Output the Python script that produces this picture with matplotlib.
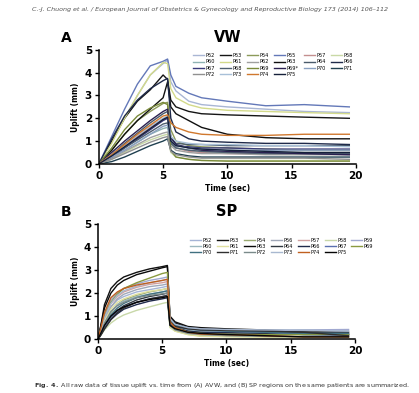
import matplotlib
matplotlib.use('Agg')
import matplotlib.pyplot as plt

# ---- Panel A (VW) data: uplift (mm) read at these times (sec)
time_a = [0, 1, 2, 3, 4, 5, 5.35, 5.6, 6, 7, 8, 10, 13, 16, 19.5]
vw_names = ['P52', 'P53', 'P54', 'P55', 'P57', 'P58',
            'P60', 'P61', 'P62', 'P63', 'P64', 'P66',
            'P67', 'P68', 'P69', 'P69*', 'P70', 'P71',
            'P72', 'P73', 'P74', 'P75']
vw_colors = ['#a9b6d4', '#151515', '#8c9a5a', '#6378b8', '#c48f8f', '#c9d9a6',
             '#8fb3b3', '#d3da8a', '#a0a0a0', '#101010', '#4a5a6a', '#1f2a4a',
             '#3a3a7a', '#4f5f70', '#7a8a3a', '#2a2050', '#8aa0c0', '#204050',
             '#909090', '#a8c0d8', '#d0782e', '#15203a']
vw_values = [
    [0, 1.0, 2.0, 3.0, 3.9, 4.4, 4.55, 3.6, 3.2, 2.75, 2.6, 2.5, 2.4, 2.3, 2.25],
    [0, 1.0, 2.0, 2.75, 3.25, 3.9, 3.7, 2.8, 2.5, 2.3, 2.2, 2.15, 2.1, 2.05, 2.0],
    [0, 0.6, 1.3, 1.9, 2.3, 2.65, 2.7, 1.5, 1.0, 0.8, 0.75, 0.7, 0.65, 0.6, 0.6],
    [0, 1.2, 2.4, 3.5, 4.3, 4.5, 4.6, 3.9, 3.4, 3.1, 2.9, 2.75, 2.55, 2.6, 2.5],
    [0, 0.4, 0.8, 1.2, 1.6, 1.95, 2.0, 1.0, 0.7, 0.55, 0.5, 0.45, 0.45, 0.45, 0.45],
    [0, 0.2, 0.5, 0.8, 1.05, 1.25, 1.3, 0.5, 0.3, 0.2, 0.15, 0.15, 0.15, 0.15, 0.15],
    [0, 0.3, 0.6, 0.95, 1.3, 1.55, 1.6, 0.9, 0.7, 0.6, 0.55, 0.5, 0.5, 0.5, 0.5],
    [0, 0.9, 2.0, 3.0, 3.9, 4.45, 4.4, 3.3, 2.9, 2.6, 2.45, 2.35, 2.3, 2.25, 2.2],
    [0, 0.25, 0.55, 0.85, 1.15, 1.35, 1.4, 0.8, 0.6, 0.5, 0.45, 0.45, 0.4, 0.4, 0.4],
    [0, 0.6, 1.3, 1.9, 2.4, 2.9, 3.6, 2.5, 2.2, 1.9, 1.6, 1.3, 1.15, 1.1, 1.1],
    [0, 0.4, 0.9, 1.35, 1.8, 2.2, 2.3, 1.1, 0.9, 0.85, 0.85, 0.8, 0.8, 0.8, 0.8],
    [0, 1.1, 2.1, 2.8, 3.3, 3.65, 3.75, 2.0, 1.4, 1.1, 1.0, 0.95, 0.9, 0.9, 0.85],
    [0, 0.3, 0.7, 1.1, 1.5, 1.9, 2.0, 1.0, 0.8, 0.75, 0.7, 0.7, 0.65, 0.65, 0.65],
    [0, 0.35, 0.7, 1.05, 1.4, 1.75, 1.8, 0.9, 0.7, 0.6, 0.55, 0.5, 0.45, 0.45, 0.45],
    [0, 0.7, 1.5, 2.1, 2.45, 2.7, 2.6, 0.6, 0.3, 0.2, 0.15, 0.12, 0.12, 0.12, 0.12],
    [0, 0.5, 1.0, 1.45, 1.9, 2.3, 2.4, 1.2, 0.85, 0.7, 0.6, 0.55, 0.5, 0.45, 0.4],
    [0, 0.3, 0.6, 0.95, 1.3, 1.65, 1.7, 1.0, 0.8, 0.7, 0.65, 0.6, 0.6, 0.6, 0.6],
    [0, 0.1, 0.3, 0.55, 0.8, 1.0, 1.1, 0.6, 0.45, 0.35, 0.3, 0.3, 0.3, 0.3, 0.3],
    [0, 0.2, 0.45, 0.7, 0.95, 1.15, 1.2, 0.55, 0.4, 0.3, 0.25, 0.25, 0.25, 0.25, 0.2],
    [0, 0.4, 0.8, 1.25, 1.65, 2.0, 2.1, 1.2, 1.0, 0.9, 0.85, 0.85, 0.8, 0.8, 0.75],
    [0, 0.4, 0.85, 1.3, 1.7, 2.1, 2.15, 1.8, 1.6, 1.4, 1.3, 1.25, 1.25, 1.3, 1.3],
    [0, 0.35, 0.75, 1.15, 1.55, 1.95, 2.05, 1.0, 0.8, 0.7, 0.65, 0.6, 0.55, 0.5, 0.5],
]

# ---- Panel B (SP) data
time_b = [0, 0.25, 0.5, 1, 1.5, 2, 3, 4, 5, 5.4, 5.6, 6, 7, 8, 10, 13, 16, 19.5]
sp_names = ['P52', 'P53', 'P54', 'P56', 'P57', 'P58', 'P59',
            'P60', 'P61', 'P63', 'P64', 'P66', 'P67', 'P69',
            'P70', 'P71', 'P72', 'P73', 'P74', 'P75']
sp_colors = ['#a5b4d6', '#111111', '#9aaa70', '#a0a8b8', '#d0a0a0', '#c8d8a8', '#a0a8d0',
             '#9cb8c0', '#e0e0a0', '#0a0a0a', '#303840', '#1f2a4a', '#5a70b0', '#8a9a40',
             '#407080', '#303030', '#7a8a8a', '#a8b8d0', '#c06020', '#050505']
sp_values = [
    [0, 0.45, 0.9, 1.4, 1.7, 1.85, 2.05, 2.15, 2.25, 2.3, 0.8, 0.6, 0.45, 0.4, 0.35, 0.3, 0.3, 0.35],
    [0, 0.7, 1.5, 2.2, 2.5, 2.7, 2.9, 3.05, 3.15, 3.2, 1.0, 0.75, 0.55, 0.5, 0.45, 0.4, 0.35, 0.25],
    [0, 0.3, 0.65, 1.15, 1.5, 1.7, 1.9, 2.05, 2.15, 2.2, 0.7, 0.5, 0.35, 0.3, 0.25, 0.2, 0.2, 0.2],
    [0, 0.4, 0.85, 1.4, 1.75, 1.95, 2.15, 2.28, 2.35, 2.4, 0.75, 0.55, 0.45, 0.4, 0.38, 0.35, 0.38, 0.4],
    [0, 0.5, 1.0, 1.55, 1.85, 2.05, 2.25, 2.38, 2.45, 2.5, 0.85, 0.6, 0.45, 0.4, 0.35, 0.3, 0.3, 0.3],
    [0, 0.2, 0.4, 0.7, 0.9, 1.05, 1.25, 1.4, 1.55, 1.6, 0.5, 0.35, 0.2, 0.15, 0.12, 0.1, 0.1, 0.1],
    [0, 0.55, 1.1, 1.7, 2.0, 2.2, 2.4, 2.55, 2.65, 2.7, 0.9, 0.65, 0.5, 0.45, 0.4, 0.38, 0.4, 0.42],
    [0, 0.35, 0.7, 1.2, 1.5, 1.65, 1.85, 1.95, 2.05, 2.1, 0.7, 0.5, 0.4, 0.35, 0.32, 0.3, 0.3, 0.3],
    [0, 0.4, 0.8, 1.3, 1.6, 1.75, 1.95, 2.08, 2.15, 2.2, 0.55, 0.35, 0.2, 0.12, 0.1, 0.08, 0.08, 0.08],
    [0, 0.65, 1.35, 2.0, 2.35, 2.55, 2.8, 2.95, 3.1, 3.15, 0.95, 0.7, 0.5, 0.45, 0.4, 0.35, 0.3, 0.2],
    [0, 0.25, 0.55, 0.95, 1.25, 1.45, 1.7, 1.85, 1.95, 2.0, 0.75, 0.6, 0.5, 0.45, 0.4, 0.35, 0.3, 0.3],
    [0, 0.22, 0.45, 0.85, 1.1, 1.3, 1.5, 1.65, 1.75, 1.8, 0.65, 0.5, 0.35, 0.3, 0.28, 0.25, 0.2, 0.2],
    [0, 0.25, 0.55, 0.95, 1.2, 1.4, 1.6, 1.75, 1.85, 1.9, 0.7, 0.55, 0.45, 0.4, 0.35, 0.3, 0.2, 0.15],
    [0, 0.5, 1.0, 1.6, 1.95, 2.2, 2.45, 2.65, 2.85, 2.9, 0.8, 0.5, 0.3, 0.25, 0.2, 0.2, 0.2, 0.2],
    [0, 0.3, 0.6, 1.05, 1.35, 1.55, 1.8, 1.95, 2.05, 2.1, 0.8, 0.6, 0.45, 0.4, 0.35, 0.3, 0.25, 0.25],
    [0, 0.2, 0.45, 0.85, 1.15, 1.35, 1.6, 1.75, 1.85, 1.9, 0.75, 0.55, 0.45, 0.4, 0.38, 0.35, 0.3, 0.15],
    [0, 0.35, 0.7, 1.2, 1.45, 1.6, 1.8, 1.9, 1.97, 2.0, 0.6, 0.4, 0.25, 0.2, 0.15, 0.12, 0.1, 0.1],
    [0, 0.45, 0.95, 1.55, 1.9, 2.1, 2.3, 2.45, 2.55, 2.6, 0.9, 0.65, 0.5, 0.45, 0.42, 0.4, 0.4, 0.35],
    [0, 0.55, 1.15, 1.8, 2.05, 2.2, 2.35, 2.45, 2.55, 2.6, 0.75, 0.5, 0.3, 0.22, 0.2, 0.15, 0.1, 0.1],
    [0, 0.3, 0.6, 1.0, 1.25, 1.4, 1.6, 1.72, 1.8, 1.85, 0.6, 0.45, 0.3, 0.25, 0.2, 0.15, 0.1, 0.1],
]

x_ticks = [0, 5, 10, 15, 20]
y_ticks = [0, 1, 2, 3, 4, 5]

plt.rcParams['font.family'] = ['DejaVu Sans']
fig = plt.figure(figsize=(4.19, 3.93), dpi=100)
fig.patch.set_facecolor('white')


def row_major(handles, labels, ncol):
    # reorder so legend reads across rows like the original
    order = []
    for c in range(ncol):
        order.extend(range(c, len(handles), ncol))
    return [handles[i] for i in order], [labels[i] for i in order]


def draw_panel(rect, times, names, colors, values, title, letter, ncol, leg_anchor):
    ax = fig.add_axes(rect)
    for name, col, vals in zip(names, colors, values):
        ax.plot(times, vals, color=col, lw=1.0, label=name)
    ax.set_xlim(0, 20)
    ax.set_ylim(0, 5)
    ax.set_xticks(x_ticks)
    ax.set_yticks(y_ticks)
    for s in ['top', 'right']:
        ax.spines[s].set_visible(False)
    for s in ['left', 'bottom']:
        ax.spines[s].set_linewidth(1.1)
    ax.tick_params(labelsize=7.5, length=3, width=1.0, pad=2)
    for lab in ax.get_xticklabels() + ax.get_yticklabels():
        lab.set_fontweight('bold')
    ax.set_xlabel('Time (sec)', fontsize=5.5, fontweight='bold', labelpad=2)
    ax.set_ylabel('Uplift (mm)', fontsize=5.5, fontweight='bold', labelpad=3)
    ax.set_title(title, fontsize=10.5, fontweight='bold', pad=6)
    h, l = ax.get_legend_handles_labels()
    h, l = row_major(h, l, ncol)
    ax.legend(h, l, ncol=ncol, loc='upper left', bbox_to_anchor=leg_anchor,
              fontsize=3.6, frameon=False, handlelength=2.2, handletextpad=0.3,
              columnspacing=1.0, labelspacing=0.25, borderaxespad=0)
    fig.text(rect[0] - 0.09, rect[1] + rect[3] + 0.03, letter,
             fontsize=10, fontweight='bold', ha='left', va='center')
    return ax


draw_panel([0.236, 0.583, 0.613, 0.290], time_a, vw_names, vw_colors, vw_values,
           'VW', 'A', 6, (0.36, 0.99))
draw_panel([0.234, 0.137, 0.613, 0.293], time_b, sp_names, sp_colors, sp_values,
           'SP', 'B', 7, (0.35, 0.90))

fig.text(0.5, 0.977, 'C.-J. Chuong et al. / European Journal of Obstetrics & Gynecology and Reproductive Biology 173 (2014) 106\u2013112',
         fontsize=4.6, style='italic', color='#555555', ha='center', va='center')
fig.text(0.08, 0.02, r'$\bf{Fig.\ 4.}$ All raw data of tissue uplift vs. time from (A) AVW, and (B) SP regions on the same patients are summarized.',
         fontsize=4.6, color='#333333', ha='left', va='center')

fig.savefig('out.png', dpi=100, facecolor='white')
